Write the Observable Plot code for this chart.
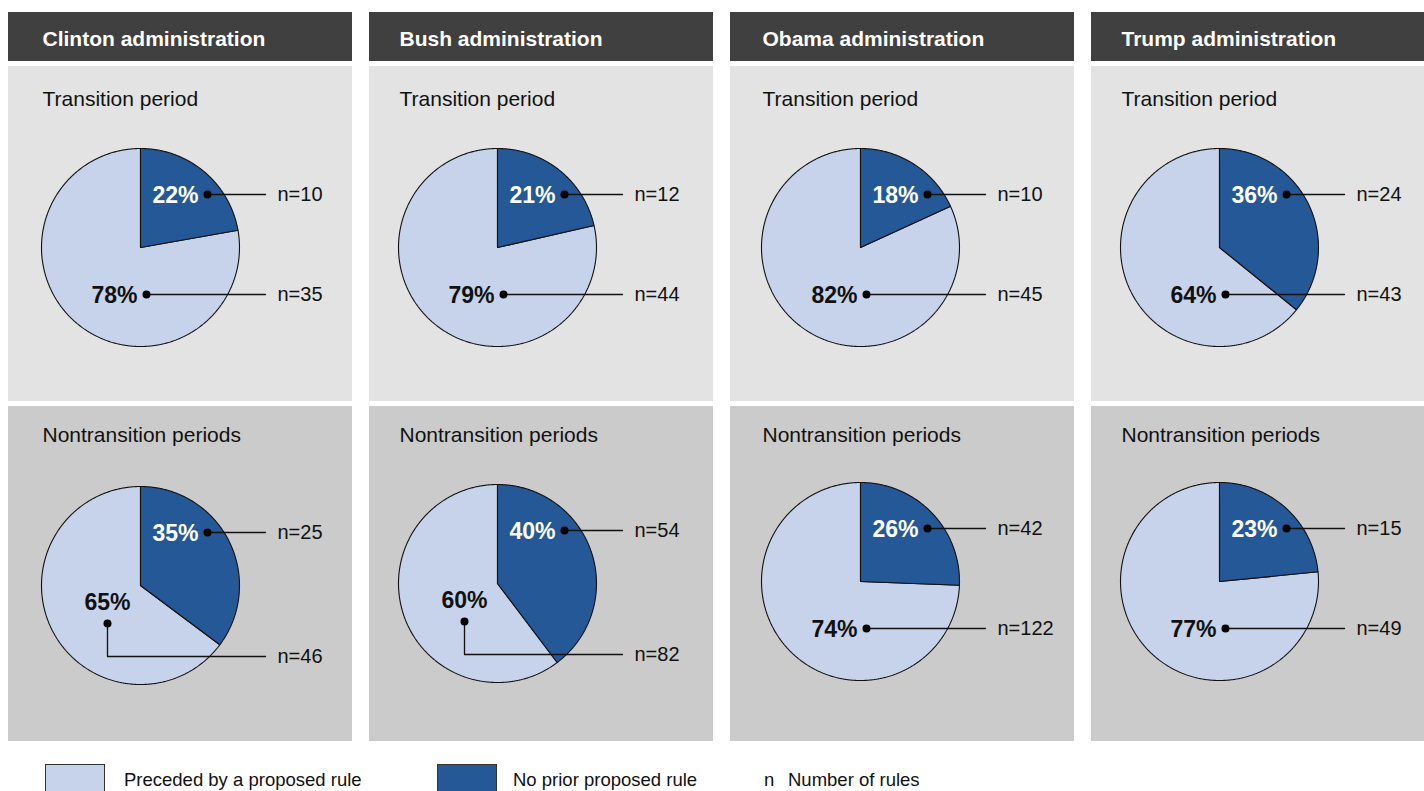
<!DOCTYPE html>
<html>
<head>
<meta charset="utf-8">
<script src="https://cdn.jsdelivr.net/npm/d3@7"></script>
<script src="https://cdn.jsdelivr.net/npm/@observablehq/plot@0.6"></script>
<style>
  html, body { margin: 0; padding: 0; background: #fff; overflow: hidden; }
  body { font-family: "Liberation Sans", Arial, sans-serif; }
  #legend { position: relative; width: 1424px; height: 41px; }
  #legend .sw { position: absolute; top: 14px; width: 58px; height: 40px; border: 1.5px solid #333; }
  #legend .tx { position: absolute; top: 21px; font-size: 18.5px; line-height: 18.5px; color: #111; white-space: nowrap; }
</style>
</head>
<body>
<div id="chart"></div>
<div id="legend"></div>
<script>
// ---------------- DATA ----------------
const administrations = ["Clinton administration", "Bush administration", "Obama administration", "Trump administration"];
const periods = ["Transition period", "Nontransition periods"];
const seriesNames = ["Preceded by a proposed rule", "No prior proposed rule"];
const legendNote = ["n", "Number of rules"];

// share labels (percent) per administration
const noPriorPctTransition      = [22, 21, 18, 36];
const precededPctTransition     = [78, 79, 82, 64];
const noPriorPctNontransition   = [35, 40, 26, 23];
const precededPctNontransition  = [65, 60, 74, 77];

// number of rules per administration
const noPriorNTransition        = [10, 12, 10, 24];
const precededNTransition       = [35, 44, 45, 43];
const noPriorNNontransition     = [25, 54, 42, 15];
const precededNNontransition    = [46, 82, 122, 49];

// ---------------- LAYOUT / STYLE ----------------
const W = 1424, H = 750;
const panelX = [8, 369, 730, 1091], panelW = 344;
const headerY = [12, 61];
const rowY = [[66, 401], [406, 741]];
const pieCx = [140, 497, 860, 1219];
const pieCy = [[247, 247, 247, 247], [585, 583, 581, 581]];
const R = 99;
const elbowLeader = [[false, false, false, false], [true, true, false, false]];
const C_LIGHT = "#c6d3ea", C_DARK = "#255897", C_HEADER = "#404040";
const ROW_FILL = ["#e2e3e2", "#cbcbcb"];
const BASE_FONT = "'Liberation Sans', Arial, sans-serif";
const NARROW_SCALE = 0.82;

// ---------------- BUILD TABLES ----------------
const headers = administrations.map((adm, i) => ({
  label: adm, x1: panelX[i], x2: panelX[i] + panelW, y1: headerY[0], y2: headerY[1],
  tx: pieCx[i] - 98, ty: 39
}));

const panels = [];
administrations.forEach((adm, i) => periods.forEach((per, j) => {
  const noPriorN = j === 0 ? noPriorNTransition[i] : noPriorNNontransition[i];
  const precededN = j === 0 ? precededNTransition[i] : precededNNontransition[i];
  const noPriorPct = j === 0 ? noPriorPctTransition[i] : noPriorPctNontransition[i];
  const precededPct = j === 0 ? precededPctTransition[i] : precededPctNontransition[i];
  panels.push({
    id: `${i}-${j}`, adm, period: per, col: i, row: j,
    noPriorN, precededN, noPriorPct, precededPct,
    x1: panelX[i], x2: panelX[i] + panelW, y1: rowY[j][0], y2: rowY[j][1],
    fill: ROW_FILL[j],
    cx: pieCx[i], cy: pieCy[j][i],
    elbow: elbowLeader[j][i],
    tx: pieCx[i] - 98, ty: j === 0 ? 99 : 435
  });
}));

// pie slice polygons
const slicePts = [];
for (const p of panels) {
  const arcs = d3.pie().sort(null).value(d => d.n)([
    {key: "dark", n: p.noPriorN},
    {key: "light", n: p.precededN}
  ]);
  for (const a of arcs) {
    const id = p.id + "-" + a.data.key, key = a.data.key;
    slicePts.push({id, key, x: p.cx, y: p.cy});
    const steps = Math.max(2, Math.ceil((a.endAngle - a.startAngle) / (Math.PI / 360)));
    for (let k = 0; k <= steps; k++) {
      const t = a.startAngle + (a.endAngle - a.startAngle) * k / steps;
      slicePts.push({id, key, x: p.cx + R * Math.sin(t), y: p.cy - R * Math.cos(t)});
    }
    slicePts.push({id, key, x: p.cx, y: p.cy});
  }
}

// leaders, dots, labels
const leaderPts = [], dots = [], pctEnd = [], pctMid = [], nLabels = [];
for (const p of panels) {
  // dark slice (no prior proposed rule)
  const dx = p.cx + 67, dy = p.cy - 53;
  dots.push({x: dx, y: dy});
  leaderPts.push({id: p.id + "d", x: dx, y: dy}, {id: p.id + "d", x: p.cx + 125, y: dy});
  pctEnd.push({x: dx - 9, y: dy + 1, text: p.noPriorPct + "%", color: "#ffffff"});
  nLabels.push({x: p.cx + 137, y: dy, text: "n=" + p.noPriorN});
  // light slice (preceded by proposed rule)
  if (p.elbow) {
    const lx = p.cx - 33, ly = p.cy + 38, ey = p.cy + 71;
    dots.push({x: lx, y: ly});
    leaderPts.push({id: p.id + "l", x: lx, y: ly}, {id: p.id + "l", x: lx, y: ey}, {id: p.id + "l", x: p.cx + 125, y: ey});
    pctMid.push({x: lx, y: ly - 21, text: p.precededPct + "%", color: "#111111"});
    nLabels.push({x: p.cx + 137, y: ey, text: "n=" + p.precededN});
  } else {
    const lx = p.cx + 6, ly = p.cy + 47;
    dots.push({x: lx, y: ly});
    leaderPts.push({id: p.id + "l", x: lx, y: ly}, {id: p.id + "l", x: p.cx + 125, y: ly});
    pctEnd.push({x: lx - 9, y: ly + 1, text: p.precededPct + "%", color: "#111111"});
    nLabels.push({x: p.cx + 137, y: ly, text: "n=" + p.precededN});
  }
}

// ---------------- PLOT ----------------
const chart = Plot.plot({
  width: W, height: H, margin: 0,
  x: {domain: [0, W], range: [0, W], axis: null},
  y: {domain: [0, H], range: [0, H], axis: null},
  color: {type: "identity"},
  style: {background: "#ffffff", fontFamily: BASE_FONT},
  marks: [
    Plot.rect(headers, {x1: "x1", x2: "x2", y1: "y1", y2: "y2", fill: C_HEADER}),
    Plot.text(headers, {x: "tx", y: "ty", text: "label", fill: "#ffffff", fontWeight: "bold", fontSize: 21, textAnchor: "start", fontFamily: BASE_FONT}),
    Plot.rect(panels, {x1: "x1", x2: "x2", y1: "y1", y2: "y2", fill: "fill"}),
    Plot.text(panels, {x: "tx", y: "ty", text: "period", fill: "#111111", fontSize: 21, textAnchor: "start", fontFamily: BASE_FONT}),
    Plot.line(slicePts.filter(d => d.key === "light"), {x: "x", y: "y", z: "id", fill: C_LIGHT, stroke: "#111111", strokeWidth: 1.1, curve: "linear", strokeLinejoin: "miter"}),
    Plot.line(slicePts.filter(d => d.key === "dark"), {x: "x", y: "y", z: "id", fill: C_DARK, stroke: "#111111", strokeWidth: 1.1, curve: "linear", strokeLinejoin: "miter"}),
    Plot.line(leaderPts, {x: "x", y: "y", z: "id", stroke: "#111111", strokeWidth: 1.3, curve: "linear"}),
    Plot.dot(dots, {x: "x", y: "y", r: 4, fill: "#000000"}),
    Plot.text(pctEnd, {x: "x", y: "y", text: "text", fill: "color", fontWeight: "bold", fontSize: 23, textAnchor: "end", fontFamily: BASE_FONT, ariaLabel: "pct-label"}),
    Plot.text(pctMid, {x: "x", y: "y", text: "text", fill: "color", fontWeight: "bold", fontSize: 23, textAnchor: "middle", fontFamily: BASE_FONT, ariaLabel: "pct-label"}),
    Plot.text(nLabels, {x: "x", y: "y", text: "text", fill: "#111111", fontSize: 20, textAnchor: "start", fontFamily: BASE_FONT})
  ]
});
// condense the percentage labels horizontally (Arial Narrow look)
d3.select(chart).selectAll('g[aria-label="pct-label"] text').each(function() {
  const t = this.getAttribute("transform") || "";
  this.setAttribute("transform", t + ` scale(${NARROW_SCALE},1)`);
});
document.getElementById("chart").appendChild(chart);

// ---------------- LEGEND ----------------
const legend = document.getElementById("legend");
const legendItems = [
  {swatch: C_LIGHT, sx: 45, label: seriesNames[0], tx: 124},
  {swatch: C_DARK, sx: 437, label: seriesNames[1], tx: 513}
];
for (const it of legendItems) {
  const s = document.createElement("div");
  s.className = "sw"; s.style.left = it.sx + "px"; s.style.background = it.swatch;
  legend.appendChild(s);
  const t = document.createElement("div");
  t.className = "tx"; t.style.left = it.tx + "px"; t.textContent = it.label;
  legend.appendChild(t);
}
const n1 = document.createElement("div");
n1.className = "tx"; n1.style.left = "764px"; n1.textContent = legendNote[0];
legend.appendChild(n1);
const n2 = document.createElement("div");
n2.className = "tx"; n2.style.left = "788px"; n2.textContent = legendNote[1];
legend.appendChild(n2);
</script>
</body>
</html>
